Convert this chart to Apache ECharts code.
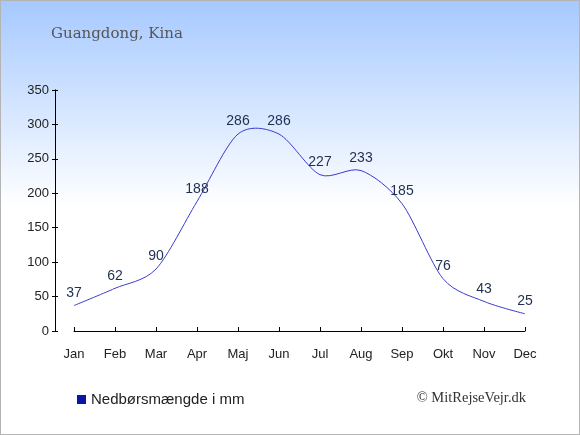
<!DOCTYPE html>
<html>
<head>
<meta charset="utf-8">
<script src="https://cdn.jsdelivr.net/npm/echarts@6/dist/echarts.min.js"></script>
<style>
  html, body { margin: 0; padding: 0; }
  #chart {
    width: 580px; height: 435px; box-sizing: border-box;
    border: 1px solid #b4b4b4;
    background: linear-gradient(to bottom, #a6c9ff 0px, #ffffff 205px, #ffffff 100%);
  }
</style>
</head>
<body>
<div id="chart"></div>
<script>
// data
var months = ['Jan', 'Feb', 'Mar', 'Apr', 'Maj', 'Jun', 'Jul', 'Aug', 'Sep', 'Okt', 'Nov', 'Dec'];
var rain = [37, 62, 90, 188, 286, 286, 227, 233, 185, 76, 43, 25];
var yTicks = [0, 50, 100, 150, 200, 250, 300, 350];

var chart = echarts.init(document.getElementById('chart'), null, { renderer: 'canvas' });

// y-akse: to akser på venstre side, så tick krydser linjen
function yAx(inside, showLabel) {
    return {
        type: 'value', position: 'left', min: 0, max: 350, interval: 50, offset: 19,
        axisLine: { show: true, lineStyle: { color: '#000', width: 1 } },
        axisTick: { show: true, inside: inside, length: 3, lineStyle: { color: '#000' } },
        axisLabel: {
            show: showLabel, color: '#222', fontSize: 13, fontFamily: 'Liberation Sans, Arial', margin: 6,
            formatter: function(v) { return yTicks.indexOf(v) >= 0 ? v : ''; }
        },
        splitLine: { show: false }
    };
}

// spline gennem punkterne, uden begrænsning (må skyde lidt over)
function splinePath(pts) {
    var s = 2.5, d = s + 1;
    var path = 'M' + pts[0][0] + ',' + pts[0][1];
    var prevRight = pts[0];
    for (var i = 1; i < pts.length; i++) {
        var p = pts[i], last = pts[i - 1], next = pts[i + 1];
        var left = p, right = p;
        if (next) {
            var lx = (s * p[0] + last[0]) / d, ly = (s * p[1] + last[1]) / d;
            var rx = (s * p[0] + next[0]) / d, ry = (s * p[1] + next[1]) / d;
            if (rx !== lx) {
                var corr = ((ry - ly) * (rx - p[0])) / (rx - lx) + p[1] - ry;
                ly += corr; ry += corr;
            }
            left = [lx, ly]; right = [rx, ry];
        }
        path += 'C' + prevRight[0] + ',' + prevRight[1] + ' ' + left[0] + ',' + left[1] + ' ' + p[0] + ',' + p[1];
        prevRight = right;
    }
    return path;
}

var option = {
    animation: false,
    backgroundColor: 'transparent',
    title: {
        text: 'Guangdong, Kina', left: 45, top: 21,
        textStyle: { fontFamily: 'DejaVu Serif', fontWeight: 'normal', fontSize: 15, color: '#555' }
    },
    legend: {
        left: 76, top: 391, padding: 0, itemWidth: 9, itemHeight: 9, itemGap: 8,
        data: [{ name: 'Nedbørsmængde i mm', icon: 'rect', itemStyle: { color: '#0a14a8' } }],
        textStyle: { fontFamily: 'Liberation Sans, Arial', fontSize: 15, color: '#222' }
    },
    graphic: [{
        type: 'text', right: 53, top: 390,
        style: { text: '© MitRejseVejr.dk', font: '14.5px "Liberation Serif", serif', fill: '#333' }
    }],
    grid: { left: 73, right: 54, top: 89, bottom: 103 },
    xAxis: {
        type: 'category', data: months, boundaryGap: false, offset: 10,
        axisLine: { show: true, lineStyle: { color: '#000', width: 1 } },
        axisTick: { show: true, inside: true, length: 4, alignWithLabel: true, lineStyle: { color: '#000' } },
        axisLabel: { color: '#222', fontSize: 13, fontFamily: 'Liberation Sans, Arial', margin: 7 }
    },
    yAxis: [yAx(false, true), yAx(true, false)],
    series: [{
        // selve kurven
        type: 'custom', data: [[0, 0]], silent: true,
        renderItem: function(params, api) {
            var pts = rain.map(function(v, i) { return api.coord([i, v]); });
            return {
                type: 'path',
                shape: { pathData: splinePath(pts) },
                style: { stroke: '#3a3acc', fill: null, lineWidth: 1 }
            };
        }
    }, {
        // værdier over punkterne
        name: 'Nedbørsmængde i mm', type: 'line', data: rain,
        symbol: 'circle', symbolSize: 1,
        lineStyle: { width: 0, opacity: 0 },
        itemStyle: { color: 'rgba(0,0,0,0)' },
        label: {
            show: true, position: 'top', distance: 5,
            color: '#1f2f4f', fontSize: 14, fontFamily: 'Liberation Sans, Arial'
        }
    }]
};
chart.setOption(option);
</script>
</body>
</html>
